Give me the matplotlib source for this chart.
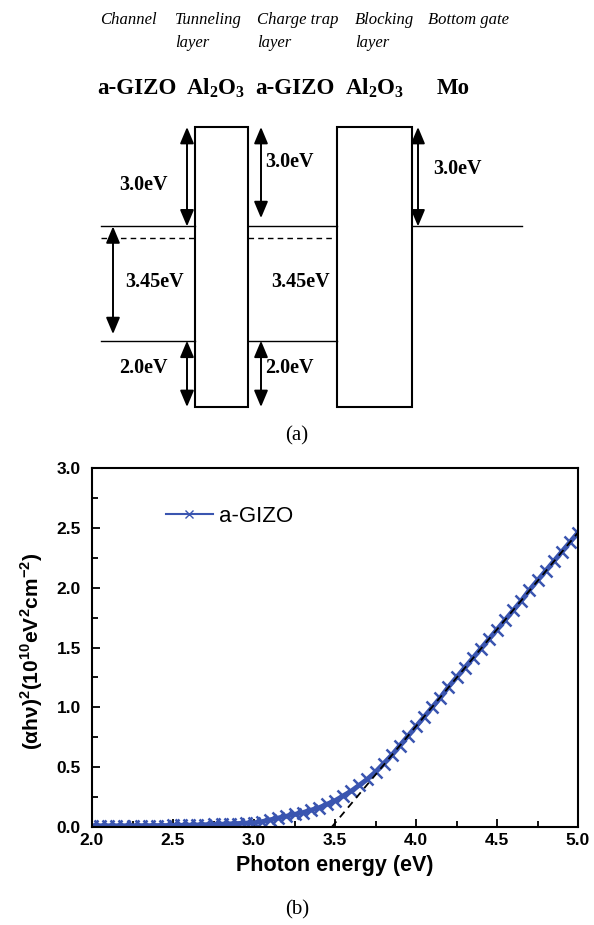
import numpy as np
import matplotlib.pyplot as plt
from matplotlib.patches import Rectangle

# ---- (a) band diagram data (eV, relative to Al2O3 conduction band) ----
layer_names = ['Channel', 'Tunneling', 'Charge trap', 'Blocking', 'Bottom gate']
layer_sub = ['', 'layer', 'layer', 'layer', '']
materials = ['a-GIZO', r'Al$_{\mathdefault{2}}$O$_{\mathdefault{3}}$', 'a-GIZO',
             r'Al$_{\mathdefault{2}}$O$_{\mathdefault{3}}$', 'Mo']
cb_offset = 3.0      # Al2O3 CB -> a-GIZO CB
gizo_gap = 3.45
vb_offset = 2.0
mo_barrier = 3.0
fermi_below_cb = 0.35

gizo_cb = -cb_offset
gizo_vb = gizo_cb - gizo_gap
al_vb = gizo_vb - vb_offset
fermi = gizo_cb - fermi_below_cb

# ---- (b) Tauc plot data ----
energy = [2.00, 2.05, 2.10, 2.15, 2.20, 2.25, 2.30, 2.35, 2.40, 2.45,
          2.50, 2.55, 2.60, 2.65, 2.70, 2.75, 2.80, 2.85, 2.90, 2.95,
          3.00, 3.05, 3.10, 3.15, 3.20, 3.25, 3.30, 3.35, 3.40, 3.45,
          3.50, 3.55, 3.60, 3.65, 3.70, 3.75, 3.80, 3.85, 3.90, 3.95,
          4.00, 4.05, 4.10, 4.15, 4.20, 4.25, 4.30, 4.35, 4.40, 4.45,
          4.50, 4.55, 4.60, 4.65, 4.70, 4.75, 4.80, 4.85, 4.90, 4.95, 5.00]
ahv2 = [0.010, 0.010, 0.010, 0.010, 0.010, 0.010, 0.011, 0.011, 0.012, 0.012,
        0.013, 0.014, 0.015, 0.017, 0.019, 0.021, 0.023, 0.026, 0.029, 0.032,
        0.035, 0.045, 0.060, 0.075, 0.090, 0.105, 0.120, 0.140, 0.160, 0.190,
        0.220, 0.260, 0.300, 0.350, 0.400, 0.460, 0.530, 0.600, 0.680, 0.760,
        0.840, 0.920, 1.000, 1.080, 1.170, 1.250, 1.330, 1.410, 1.490, 1.570,
        1.650, 1.730, 1.810, 1.890, 1.980, 2.060, 2.140, 2.220, 2.300, 2.380, 2.460]
fit_x = [3.48, 5.0]
fit_y = [0.0, 2.46]

W, H = 594, 925
fig = plt.figure(figsize=(W / 100, H / 100), dpi=100)


def fx(px):
    return px / W


def fy(py):
    return 1 - py / H


serif = 'Liberation Serif'
sans = 'Liberation Sans'

# top header texts
name_x = [100, 175, 257, 355, 428]
for name, sub, xpx in zip(layer_names, layer_sub, name_x):
    fig.text(fx(xpx), fy(20), name, family=serif, style='italic', fontsize=12,
             va='center', ha='left')
    if sub:
        fig.text(fx(xpx), fy(43), sub, family=serif, style='italic', fontsize=12,
                 va='center', ha='left')

mat_x = [97, 186, 255, 345, 437]
for m, xpx in zip(materials, mat_x):
    fig.text(fx(xpx), fy(88), m, family=serif, weight='bold', fontsize=16.5,
             va='center', ha='left')

# band diagram axes: x in layout units, y in eV
x0, x1, ytop, ybot = 95, 525, 127, 407
axa = fig.add_axes([fx(x0), fy(ybot), (x1 - x0) / W, (ybot - ytop) / H])
axa.set_xlim(x0, x1)
axa.set_ylim(al_vb, 0)
axa.axis('off')

edges = [101, 195, 248, 337, 412, 522]
for i in (1, 3):
    axa.add_patch(Rectangle((edges[i], al_vb), edges[i + 1] - edges[i], -al_vb,
                            facecolor='white', edgecolor='black', lw=1.5,
                            clip_on=False))
for i in (0, 2):
    axa.plot([edges[i], edges[i + 1]], [gizo_cb, gizo_cb], color='black', lw=1)
    axa.plot([edges[i], edges[i + 1]], [gizo_vb, gizo_vb], color='black', lw=1)
    axa.plot([edges[i], edges[i + 1]], [fermi, fermi], color='black', lw=1,
             ls=(0, (4, 3)))
axa.plot([edges[4], edges[5]], [-mo_barrier, -mo_barrier], color='black', lw=1)

arrow_style = dict(arrowstyle='<|-|>,head_length=1.0,head_width=0.42',
                   color='black', lw=1.4, mutation_scale=10,
                   shrinkA=0, shrinkB=0)


def darrow(x, ya, yb):
    axa.annotate('', xy=(x, yb), xytext=(x, ya), arrowprops=arrow_style,
                 annotation_clip=False)


darrow(187, 0, gizo_cb)
darrow(261, 0, gizo_cb + 0.25)
darrow(418, 0, -mo_barrier)
darrow(113, gizo_cb, gizo_vb + 0.2)
darrow(187, gizo_vb, al_vb)
darrow(261, gizo_vb, al_vb)

lab = dict(family=serif, weight='bold', fontsize=14.5, va='center')
axa.text(143, -1.75, f'{cb_offset:.1f}eV', ha='center', **lab)
axa.text(265, -1.06, f'{cb_offset:.1f}eV', ha='left', **lab)
axa.text(433, -1.27, f'{mo_barrier:.1f}eV', ha='left', **lab)
axa.text(155, -4.68, f'{gizo_gap:.2f}eV', ha='center', **lab)
axa.text(300, -4.68, f'{gizo_gap:.2f}eV', ha='center', **lab)
axa.text(143, -7.27, f'{vb_offset:.1f}eV', ha='center', **lab)
axa.text(265, -7.27, f'{vb_offset:.1f}eV', ha='left', **lab)

fig.text(fx(297), fy(436), '(a)', family=serif, fontsize=15, ha='center', va='center')
fig.text(fx(297), fy(910), '(b)', family=serif, fontsize=15, ha='center', va='center')

# ---- (b) Tauc plot ----
bl, br, bt, bb = 92, 578, 468, 827
ax = fig.add_axes([fx(bl), fy(bb), (br - bl) / W, (bb - bt) / H])
blue = '#3a55b0'
ax.plot(energy, ahv2, color=blue, marker='x', ms=9, mew=1.8, lw=3.5,
        label='a-GIZO', zorder=2)
ax.plot(fit_x, fit_y, color='black', lw=1.3, ls=(0, (4, 3)), zorder=3)
ax.set_xlim(2.0, 5.0)
ax.set_ylim(0.0, 3.0)
ax.set_xticks(np.arange(2.0, 5.01, 0.5))
ax.set_yticks(np.arange(0.0, 3.01, 0.5))
ax.set_xticks(np.arange(2.25, 5.0, 0.5), minor=True)
ax.set_yticks(np.arange(0.25, 3.0, 0.5), minor=True)
ax.tick_params(which='both', direction='in', top=False, right=False, width=1.3)
ax.tick_params(which='major', length=6, labelsize=12.5)
ax.tick_params(axis='y', which='major', pad=8)
ax.tick_params(axis='x', which='major', pad=4)
ax.tick_params(which='minor', length=4)
for lbl in ax.get_xticklabels() + ax.get_yticklabels():
    lbl.set_family(sans)
    lbl.set_weight('bold')
for s in ax.spines.values():
    s.set_linewidth(1.5)
ax.set_xlabel('Photon energy (eV)', family=sans, weight='bold', fontsize=15.5)
ax.xaxis.set_label_coords(0.5, -0.078)
ax.set_ylabel(r'(αhν)$^{\mathdefault{2}}$(10$^{\mathdefault{10}}$eV$^{\mathdefault{2}}$'
              r'cm$^{\mathdefault{-2}}$)', family=sans, weight='bold', fontsize=15)
ax.yaxis.set_label_coords(-0.097, 0.49)
leg = ax.legend(loc='center left', bbox_to_anchor=(0.152, 0.866), frameon=False,
                borderpad=0, borderaxespad=0, handlelength=2.1, handletextpad=0.3,
                prop={'family': sans, 'size': 16})
for h in leg.legend_handles:
    h.set_markersize(6)
    h.set_markeredgewidth(1.0)
    h.set_linewidth(1.5)

fig.savefig('out.png', dpi=100)
